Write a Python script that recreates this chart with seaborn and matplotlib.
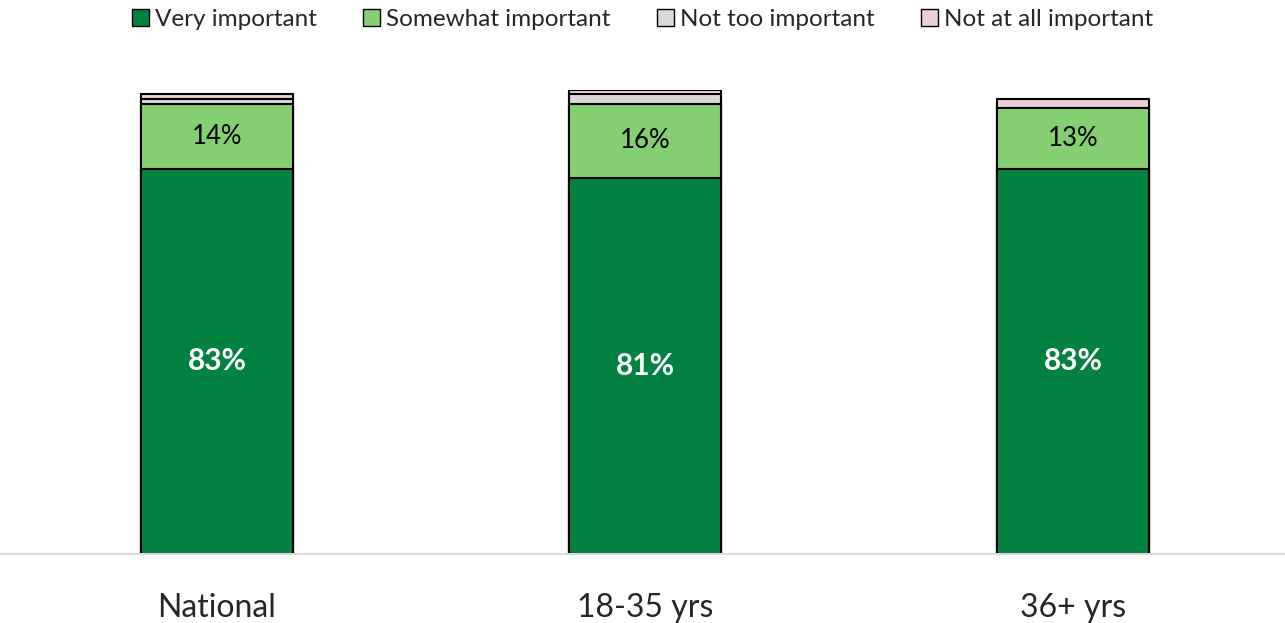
import numpy as np
import pandas as pd
import matplotlib
matplotlib.use("Agg")
import matplotlib.pyplot as plt
import seaborn as sns
from matplotlib.patches import Patch

# Chart data
groups = ["National", "18-35 yrs", "36+ yrs"]
series = ["Very important", "Somewhat important", "Not too important", "Not at all important"]
very = [83, 81, 83]
somewhat = [14, 16, 13]
not_too = [1, 2, 0]
not_at_all = [1, 1, 2]
colors = ["#038141", "#83CF71", "#D9D9D9", "#EBCFD5"]

sns.set_theme(style="white")
plt.rcParams["font.family"] = ["Lato", "DejaVu Sans"]

df = pd.DataFrame({"group": groups, "Very important": very, "Somewhat important": somewhat,
                   "Not too important": not_too, "Not at all important": not_at_all})
cum = df[series].cumsum(axis=1)

fig = plt.figure(figsize=(12.85, 6.23), dpi=100)
ax = fig.add_axes([0, 0.111, 1, 0.745])

# draw cumulative totals from the top down so each stack shows
for s, c in reversed(list(zip(series, colors))):
    sns.barplot(x=df["group"], y=cum[s], color=c, width=0.355, edgecolor="black",
                linewidth=1.5, ax=ax, saturation=1)

for i in range(len(groups)):
    ax.text(i, very[i] / 2, f"{very[i]}%", ha="center", va="center", color="white",
            fontsize=21.5, fontweight="bold")
    ax.text(i, very[i] + somewhat[i] / 2, f"{somewhat[i]}%", ha="center", va="center",
            color="black", fontsize=18.5)

ax.set_xlim(-0.507, 2.495)
ax.set_ylim(0, 100)
ax.set_xlabel("")
ax.set_ylabel("")
ax.set_yticks([])
ax.tick_params(axis="x", length=0, labelsize=23, pad=28)
for side in ["top", "left", "right"]:
    ax.spines[side].set_visible(False)
ax.spines["bottom"].set_color("#D9D9D9")
ax.spines["bottom"].set_linewidth(1.5)

handles = [Patch(facecolor=c, edgecolor="black", linewidth=1, label=s) for s, c in zip(series, colors)]
fig.legend(handles=handles, loc="upper center", bbox_to_anchor=(0.5, 1.02), ncol=4, frameon=False,
           fontsize=17.5, handlelength=0.7, handleheight=0.7, handletextpad=0.25, columnspacing=1.9)

fig.savefig("out.png", dpi=100)
